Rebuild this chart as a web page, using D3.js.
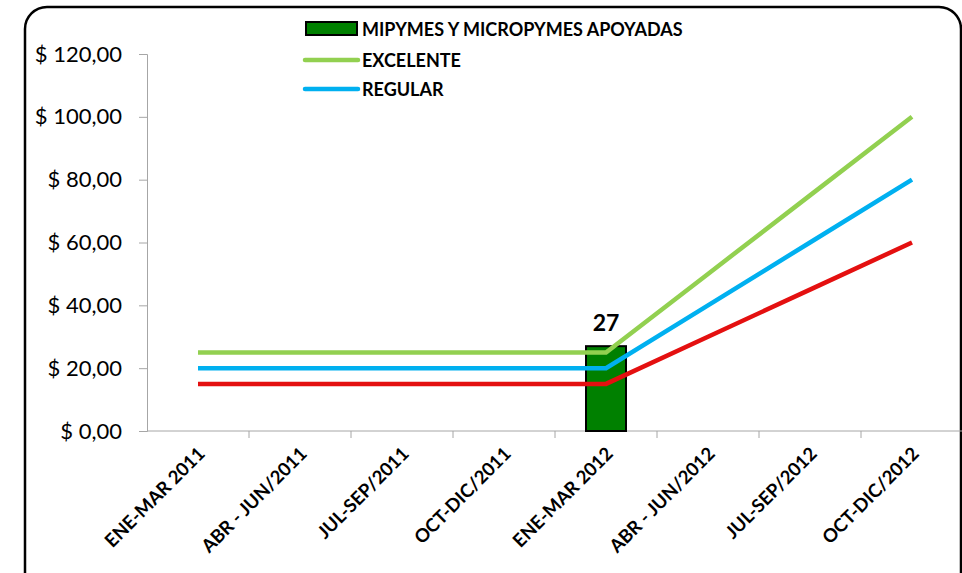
<!DOCTYPE html>
<html>
<head>
<meta charset="utf-8">
<style>
  body { margin: 0; background: #fff; }
  text { font-family: Lato, "Open Sans", sans-serif; }
</style>
</head>
<body>
<svg width="962" height="573"></svg>
<script src="https://d3js.org/d3.v7.min.js"></script>
<script>
var categories = ["ENE-MAR 2011", "ABR - JUN/2011", "JUL-SEP/2011", "OCT-DIC/2011",
                  "ENE-MAR 2012", "ABR - JUN/2012", "JUL-SEP/2012", "OCT-DIC/2012"];
var apoyadas  = [null, null, null, null, 27, null, null, null];
var excelente = [25, 25, 25, 25, 25, 50, 75, 100];
var regular   = [20, 20, 20, 20, 20, 40, 60, 80];
var malo      = [15, 15, 15, 15, 15, 30, 45, 60];
var yTicks = [0, 20, 40, 60, 80, 100, 120];

var svg = d3.select("svg");

// marco redondeado
svg.append("rect")
  .attr("x", 25).attr("y", 7)
  .attr("width", 936).attr("height", 590)
  .attr("rx", 22)
  .attr("fill", "#fff")
  .attr("stroke", "#000")
  .attr("stroke-width", 2.5);

var x = d3.scaleBand().domain(categories).range([147, 963]);
var y = d3.scaleLinear().domain([0, 120]).range([431, 54]);

// eje y
var yAxis = d3.axisLeft(y)
  .tickValues(yTicks)
  .tickSize(8)
  .tickFormat(function(d) { return "$ " + d3.format(".2f")(d).replace(".", ","); });

var gy = svg.append("g").attr("transform", "translate(147,0)").call(yAxis);
gy.select(".domain").attr("stroke", "#a6a6a6");
gy.selectAll(".tick line").attr("stroke", "#a6a6a6");
gy.selectAll(".tick text")
  .attr("x", -25)
  .attr("font-size", 22)
  .attr("fill", "#000");

// eje x, marcas entre categorias
var gx = svg.append("g").attr("transform", "translate(0,431)");
gx.append("line")
  .attr("x1", 147).attr("x2", 963)
  .attr("stroke", "#a6a6a6");
gx.selectAll(".cat-tick")
  .data(categories)
  .enter().append("line")
  .attr("x1", function(d) { return x(d) + x.bandwidth(); })
  .attr("x2", function(d) { return x(d) + x.bandwidth(); })
  .attr("y1", 0).attr("y2", 7)
  .attr("stroke", "#a6a6a6");
gx.selectAll(".cat-label")
  .data(categories)
  .enter().append("text")
  .attr("transform", function(d) {
    return "translate(" + (x(d) + x.bandwidth() / 2 + 8) + ",24) rotate(-45)";
  })
  .attr("text-anchor", "end")
  .attr("font-size", 18.5)
  .attr("font-weight", "bold")
  .attr("fill", "#000")
  .text(function(d) { return d; });

// barra
var barW = 40;
svg.selectAll(".bar")
  .data(categories.filter(function(c, i) { return apoyadas[i] != null; }))
  .enter().append("rect")
  .attr("x", function(d) { return x(d) + x.bandwidth() / 2 - barW / 2; })
  .attr("y", function(d) { return y(apoyadas[categories.indexOf(d)]); })
  .attr("width", barW)
  .attr("height", function(d) { return 431 - y(apoyadas[categories.indexOf(d)]); })
  .attr("fill", "#008000")
  .attr("stroke", "#000")
  .attr("stroke-width", 2);

svg.selectAll(".bar-label")
  .data(categories.filter(function(c, i) { return apoyadas[i] != null; }))
  .enter().append("text")
  .attr("x", function(d) { return x(d) + x.bandwidth() / 2; })
  .attr("y", function(d) { return y(apoyadas[categories.indexOf(d)]) - 15; })
  .attr("text-anchor", "middle")
  .attr("font-size", 23)
  .attr("font-weight", "bold")
  .text(function(d) { return apoyadas[categories.indexOf(d)]; });

// lineas
var line = d3.line()
  .x(function(d, i) { return x(categories[i]) + x.bandwidth() / 2; })
  .y(function(d) { return y(d); });

var series = [
  {values: malo, color: "#e41010"},
  {values: regular, color: "#00b0f0"},
  {values: excelente, color: "#92d050"}
];
series.forEach(function(s) {
  svg.append("path")
    .datum(s.values)
    .attr("fill", "none")
    .attr("stroke", s.color)
    .attr("stroke-width", 4.5)
    .attr("d", line);
});

// leyenda
var legend = svg.append("g");
legend.append("rect")
  .attr("x", 306).attr("y", 22).attr("width", 51).attr("height", 13)
  .attr("fill", "#008000").attr("stroke", "#000").attr("stroke-width", 2);
legend.append("text").attr("x", 362).attr("y", 35.5)
  .attr("font-size", 18).attr("font-weight", "bold").text("MIPYMES Y MICROPYMES APOYADAS");

legend.append("line")
  .attr("x1", 305).attr("x2", 358).attr("y1", 60).attr("y2", 60)
  .attr("stroke", "#92d050").attr("stroke-width", 4.5).attr("stroke-linecap", "round");
legend.append("text").attr("x", 362).attr("y", 66.5)
  .attr("font-size", 18).attr("font-weight", "bold").text("EXCELENTE");

legend.append("line")
  .attr("x1", 305).attr("x2", 358).attr("y1", 89).attr("y2", 89)
  .attr("stroke", "#00b0f0").attr("stroke-width", 4.5).attr("stroke-linecap", "round");
legend.append("text").attr("x", 362).attr("y", 95.5)
  .attr("font-size", 18).attr("font-weight", "bold").text("REGULAR");
</script>
</body>
</html>
